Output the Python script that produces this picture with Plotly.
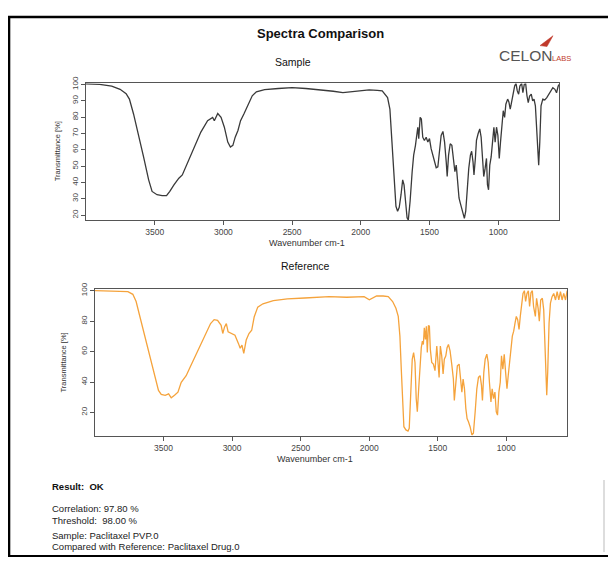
import plotly.graph_objects as go

# ---------------- data ----------------
sample_wn = [4000, 3900, 3813, 3752, 3708, 3684, 3654, 3618, 3581, 3544, 3519, 3483, 3446, 3414,
             3390, 3360, 3324, 3299, 3262, 3213, 3164, 3115, 3078, 3066, 3041, 3017, 2993, 2968,
             2949, 2931, 2914, 2894, 2875, 2850, 2820, 2790, 2760, 2700, 2600, 2500, 2400, 2300,
             2200, 2130, 2050, 2000, 1939, 1880, 1844, 1805, 1788, 1773, 1756, 1744, 1732, 1720,
             1707, 1695, 1685, 1675, 1663, 1654, 1641, 1626, 1615, 1602, 1593, 1585, 1578, 1568,
             1559, 1549, 1537, 1524, 1512, 1500, 1488, 1476, 1463, 1451, 1439, 1427, 1415, 1402,
             1390, 1378, 1371, 1361, 1349, 1337, 1324, 1315, 1305, 1295, 1285, 1276, 1266, 1256,
             1246, 1236, 1227, 1214, 1202, 1193, 1183, 1176, 1166, 1158, 1146, 1134, 1124, 1114,
             1105, 1095, 1085, 1078, 1070, 1061, 1051, 1041, 1031, 1022, 1012, 1002, 992, 983,
             973, 963, 953, 944, 931, 922, 912, 902, 890, 880, 870, 861, 851, 842, 829, 820, 810,
             800, 790, 781, 771, 759, 749, 739, 729, 719, 712, 705, 697, 688, 675, 661, 646, 631,
             617, 602, 587, 575, 563, 555]
sample_t = [100.4, 100, 99, 97, 94.3, 91, 81.9, 69.8, 55.6, 41.6, 34.5, 32.5, 31.9, 31.9,
            34.5, 38.5, 42.6, 44.6, 51.7, 60.7, 70.8, 77.8, 79.8, 77.8, 82.2, 79.8, 73.8, 64.7,
            61.7, 62.7, 67.7, 71.8, 77.8, 82, 88, 93, 95.5, 96.8, 97.5, 98, 97.5, 96.8,
            95.8, 95, 95.8, 96.2, 96.6, 96.4, 96, 91.9, 84.9, 64.7, 38.6, 25.4, 22.4, 24.8,
            32.5, 41.6, 38.5, 26.5, 18.4, 17, 28.5, 46.6, 56.7, 62.7, 68.8, 73.8, 66.8, 79.8,
            78.8, 67.7, 65.7, 67.7, 64.7, 66.8, 60.7, 56.7, 51.7, 49, 49.6, 60.7, 68.8, 71.2,
            64.7, 52.6, 43.6, 56.7, 63.7, 62.7, 51.7, 46.6, 50.6, 40.5, 30.5, 27.5, 24.5, 21.4,
            18, 22.4, 36.6, 48.6, 56.7, 59.1, 52.6, 44.6, 54.7, 65.7, 69.8, 72.8, 67.7, 52.6,
            43.6, 48.6, 54.7, 38.6, 35.5, 50.6, 55.6, 64.7, 73.8, 64.7, 73.8, 68.8, 54.7, 64.7,
            72.8, 83.9, 79.8, 87.9, 91, 89.3, 84.9, 89.9, 94.9, 99, 100.6, 96, 94, 99, 100.6, 94.9, 100,
            100.6, 92.9, 88.9, 92.9, 94, 89.9, 91, 86.9, 72.8, 56.7, 50.6, 64.7, 86.9, 91, 90.5, 91.9, 94,
            96, 98, 97, 94.9, 99, 100]

ref_wn = [4000, 3858, 3760, 3724, 3700, 3676, 3639, 3602, 3566, 3537, 3517, 3488, 3463, 3444,
          3420, 3395, 3371, 3335, 3309, 3271, 3233, 3195, 3157, 3131, 3106, 3080, 3068, 3055,
          3042, 3029, 3004, 2979, 2954, 2941, 2928, 2915, 2897, 2877, 2857, 2839, 2813, 2775,
          2699, 2597, 2470, 2292, 2164, 2037, 1999, 1974, 1946, 1898, 1861, 1829, 1805, 1788,
          1776, 1766, 1756, 1747, 1732, 1717, 1708, 1698, 1686, 1676, 1666, 1657, 1649, 1639,
          1629, 1620, 1612, 1605, 1598, 1590, 1583, 1576, 1568, 1561, 1554, 1544, 1532, 1520,
          1507, 1498, 1490, 1481, 1471, 1461, 1452, 1441, 1432, 1422, 1410, 1398, 1386, 1379,
          1368, 1357, 1344, 1332, 1324, 1315, 1305, 1295, 1286, 1276, 1264, 1251, 1240, 1227,
          1215, 1203, 1191, 1181, 1174, 1164, 1154, 1142, 1132, 1123, 1112, 1103, 1093, 1083,
          1073, 1064, 1054, 1044, 1035, 1025, 1015, 1005, 995, 986, 976, 966, 956, 946, 936,
          927, 917, 907, 898, 888, 878, 868, 859, 849, 839, 830, 820, 810, 801, 788, 779, 768,
          759, 749, 737, 727, 719, 712, 705, 698, 688, 678, 666, 654, 641, 629, 617, 605, 593,
          581, 568, 556]
ref_t = [100, 99.8, 99.4, 97.6, 92.9, 84.2, 71.2, 58.3, 45.3, 34.5, 31.9, 31.3, 32.3, 29.7,
         31.3, 33.4, 39.9, 44.2, 49.2, 56.8, 64.3, 71.9, 78.4, 81, 80.5, 77.3, 71.9, 76.2,
         78.4, 73, 71.9, 70.8, 65.4, 62.2, 64.3, 58.9, 67.6, 71.9, 74, 82.7, 89.2, 91.4,
         93.5, 94.6, 95.2, 96.1, 95.7, 96.1, 94, 95.2, 96.5, 96.5, 96.1, 92.9, 88.5, 83.1,
         70.2, 48.5, 22.6, 10.7, 8.6, 7.9, 9.6, 27, 55, 59.4, 52.9, 29.1, 20.5, 35.6,
         50.7, 62.6, 66.9, 64.7, 75.6, 68, 76.7, 59.4, 77.1, 76.7, 61.5, 52.9, 51.8, 47.5,
         63.7, 50.7, 43.1, 63.7, 57.2, 45.3, 55, 57.2, 62.6, 64.7, 60.5, 51.8, 42, 28,
         42, 50.7, 51.8, 39.9, 33.4, 42, 35.6, 22.6, 16.1, 14, 10.7, 5.3, 6.4, 20.5,
         35.6, 43.1, 44.2, 37.8, 28, 46.4, 55, 58.3, 52.9, 39.9, 27, 35.6, 29.1, 33.4,
         20.5, 18.3, 33.4, 39.9, 57.2, 48.5, 58.3, 46.4, 35.6, 44.2, 55, 61.5, 70.2, 73.4, 78.8,
         83.1, 80.9, 74.5, 83.1, 89.6, 98.2, 100, 92.9, 98.2, 100, 89.6, 98.7, 100, 89.6, 83.1, 95, 88.5,
         79.9, 93.9, 95, 87.4, 61.5, 39.9, 31.3, 46.4, 78.8, 91.8, 96.1, 98.2, 93.9, 99.4, 93.9, 99.4, 93.9,
         98.2, 93.9, 100]

x_ticks = [3500, 3000, 2500, 2000, 1500, 1000]
sample_y_ticks = [20, 30, 40, 50, 60, 70, 80, 90, 100]
ref_y_ticks = [20, 40, 60, 80, 100]

result_lines = ["Correlation: 97.80 %", "Threshold:  98.00 %"]
info_lines = ["Sample: Paclitaxel PVP.0", "Compared with Reference: Paclitaxel Drug.0"]

# ---------------- page placement ----------------
# the browser page adds an 8px body margin, so the figure is 600x549 and
# starts 8px from the window's top-left corner.
OFF = 8
W, H = 600, 549
def px(x):
    return (x - OFF) / W
def py(y):
    return 1 - (y - OFF) / H

FONT = "Liberation Sans, Arial, sans-serif"
AX = "#555555"

fig = go.Figure()
fig.add_trace(go.Scatter(x=sample_wn, y=sample_t, mode="lines",
                         line=dict(color="#3a3a3a", width=1.3), xaxis="x", yaxis="y",
                         showlegend=False, hoverinfo="skip"))
fig.add_trace(go.Scatter(x=ref_wn, y=ref_t, mode="lines",
                         line=dict(color="#F5A33C", width=1.3), xaxis="x2", yaxis="y2",
                         showlegend=False, hoverinfo="skip"))

def xax(domain, anchor):
    return dict(domain=domain, range=[4000, 555], tickvals=x_ticks, ticks="outside", ticklen=4,
                tickcolor=AX, tickwidth=1, showline=True, mirror=True, linecolor=AX, linewidth=1.4,
                showgrid=False, zeroline=False, anchor=anchor,
                tickfont=dict(family=FONT, size=8.5, color="#444"))

def yax(domain, rng, tv, anchor):
    return dict(domain=domain, range=rng, tickvals=tv, ticks="outside", ticklen=4, tickangle=-90,
                tickcolor=AX, tickwidth=1, showline=True, mirror=True, linecolor=AX, linewidth=1.4,
                showgrid=False, zeroline=False, anchor=anchor,
                tickfont=dict(family=FONT, size=8, color="#444"))

fig.update_layout(
    width=W, height=H, margin=dict(l=0, r=0, t=0, b=0),
    paper_bgcolor="white", plot_bgcolor="white", showlegend=False,
    xaxis=xax([px(86), px(559.3)], "y"),
    yaxis=yax([py(215.7), py(77.3)], [17, 100.6], sample_y_ticks, "x"),
    xaxis2=xax([px(95), px(567.3)], "y2"),
    yaxis2=yax([py(434.3), py(285.7)], [4.7, 101], ref_y_ticks, "x2"),
)

ann = []
def text(x, y, s, size=10, bold=False, color="#111", xanchor="center", angle=0, family=FONT):
    ann.append(dict(x=px(x), y=py(y), xref="paper", yref="paper", text=(f"<b>{s}</b>" if bold else s),
                    showarrow=False, xanchor=xanchor, yanchor="middle", textangle=angle,
                    font=dict(family=family, size=size, color=color)))

text(321, 27, "Spectra Comparison", size=13, bold=True)
text(293, 56, "Sample", size=10.5)
text(305, 262, "Reference", size=10.5)
text(307, 239, "Wavenumber cm-1", size=9, color="#333")
text(315, 458, "Wavenumber cm-1", size=9, color="#333")
text(57, 146, "Transmittance [%]", size=7.5, color="#333", angle=-90)
text(64, 360, "Transmittance [%]", size=7.5, color="#333", angle=-90)
text(50, 486, "Result:  OK", size=9.5, bold=True, xanchor="left")
for i, s in enumerate(result_lines):
    text(50, 508 + 12 * i, s, size=9.5, xanchor="left", color="#222")
for i, s in enumerate(info_lines):
    text(50, 535 + 11.5 * i, s, size=9.5, xanchor="left", color="#222")
# logo
text(497, 49, "CELON", size=15.5, color="#555", xanchor="left")
text(550, 52, "LABS", size=7.5, color="#c0392b", xanchor="left")
fig.update_layout(annotations=ann)

shapes = [
    dict(type="rect", xref="paper", yref="paper", x0=px(9), x1=px(640), y0=py(556.2), y1=py(10),
         line=dict(color="black", width=2.6), fillcolor="rgba(0,0,0,0)", layer="above"),
    dict(type="line", xref="paper", yref="paper", x0=px(604), x1=px(604), y0=py(552), y1=py(479),
         line=dict(color="#bbbbbb", width=1)),
    dict(type="path", xref="paper", yref="paper",
         path=f"M {px(540)} {py(39)} L {px(553)} {py(29)} L {px(547)} {py(40)} Z",
         fillcolor="#c0392b", line=dict(color="#c0392b", width=0.5)),
]
fig.update_layout(shapes=shapes)

fig.write_html("out.html")
